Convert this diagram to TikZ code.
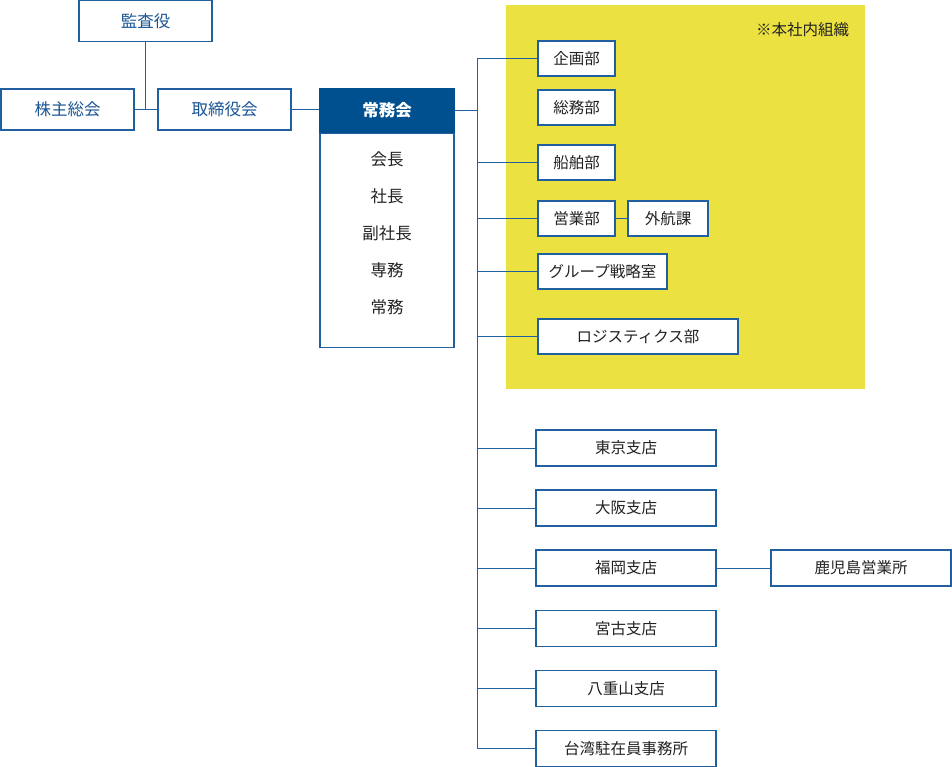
\documentclass[tikz,border=0pt]{standalone}
\usepackage{fontspec}
\setmainfont{Noto Sans CJK JP}
\usetikzlibrary{positioning}
\definecolor{orgblue}{HTML}{2060A0}
\definecolor{headblue}{HTML}{00508F}
\definecolor{topblue}{HTML}{1A5494}
\definecolor{inktext}{HTML}{222222}
\definecolor{honsha}{HTML}{EBE140}

\begin{document}
\begin{tikzpicture}[x=1pt,y=-1pt,
   box/.style={draw=orgblue,line width=1.2pt,fill=white,inner sep=0pt,
      minimum width=133pt,minimum height=41pt,text=topblue,
      font=\fontsize{16.5}{17}\selectfont},
   dept/.style={draw=orgblue,line width=1.2pt,fill=white,inner sep=0pt,
      minimum height=35pt,text=inktext,font=\fontsize{15.5}{16}\selectfont},
   link/.style={draw=orgblue,line width=1pt}]
   \useasboundingbox (0,0) rectangle (952,767);
   % yellow area: head office
   \fill[honsha] (506,5) rectangle (865,389);
   \node[text=inktext,font=\fontsize{15.5}{16}\selectfont] (chuki) at (802.5,30) {※本社内組織};

   \node[box] (kansa) at (145.5,21) {監査役};
   \node[box] (kabunushi) at (67.5,109.5) {株主総会};
   \node[box] (torishimari) at (224.5,109.5) {取締役会};
   \node[box,fill=headblue,draw=headblue,text=white,minimum width=134pt,
      minimum height=43pt,font=\fontsize{16.5}{17}\selectfont\bfseries] (jomukai) at (387,110.5) {常務会};
   \node[draw=orgblue,line width=1.2pt,minimum width=134pt,minimum height=214pt,
      inner sep=0pt,below=0pt of jomukai] (jomubody) {};
   \node[align=center,text=inktext,font=\fontsize{16.5}{37}\selectfont] (yakuin) at (387,233)
      {会長\\社長\\副社長\\専務\\常務};

   \node[dept,minimum width=77pt] (kikaku) at (576.5,58.5) {企画部};
   \node[dept,minimum width=77pt] (somu) at (576.5,107.5) {総務部};
   \node[dept,minimum width=77pt] (senpaku) at (576.5,162.5) {船舶部};
   \node[dept,minimum width=77pt] (eigyo) at (576.5,218.5) {営業部};
   \node[dept,minimum width=80pt] (gaiko) at (668,218.5) {外航課};
   \node[dept,minimum width=129pt] (group) at (602.5,271.5) {グループ戦略室};
   \node[dept,minimum width=200pt] (logi) at (638,336.5) {ロジスティクス部};

   \node[dept,minimum width=180pt,minimum height=36pt] (tokyo) at (626,448) {東京支店};
   \node[dept,minimum width=180pt,minimum height=36pt] (osaka) at (626,508) {大阪支店};
   \node[dept,minimum width=180pt,minimum height=36pt] (fukuoka) at (626,568) {福岡支店};
   \node[dept,minimum width=180pt,minimum height=36pt] (kagoshima) at (861,568) {鹿児島営業所};
   \node[dept,minimum width=180pt,minimum height=36pt] (miyako) at (626,628.5) {宮古支店};
   \node[dept,minimum width=180pt,minimum height=36pt] (yaeyama) at (626,688.5) {八重山支店};
   \node[dept,minimum width=180pt,minimum height=36pt] (taiwan) at (626,748.5) {台湾駐在員事務所};

   \coordinate (trunk) at (477,110.5);

   \draw[link] (kansa.south) -- (kansa.south |- kabunushi.east);
   \draw[link] (kabunushi) -- (torishimari);
   \draw[link] (torishimari.east) -- (torishimari.east -| jomukai.west);
   \draw[link] (jomukai.east) -- (trunk);
   \draw[link] (trunk |- kikaku.west) |- (taiwan.west);
   \foreach \d in {kikaku,senpaku,eigyo,group,logi,tokyo,osaka,fukuoka,miyako,yaeyama}
      \draw[link] (trunk |- \d.west) -- (\d.west);
   \draw[link] (eigyo) -- (gaiko);
   \draw[link] (fukuoka) -- (kagoshima);
\end{tikzpicture}
\end{document}
